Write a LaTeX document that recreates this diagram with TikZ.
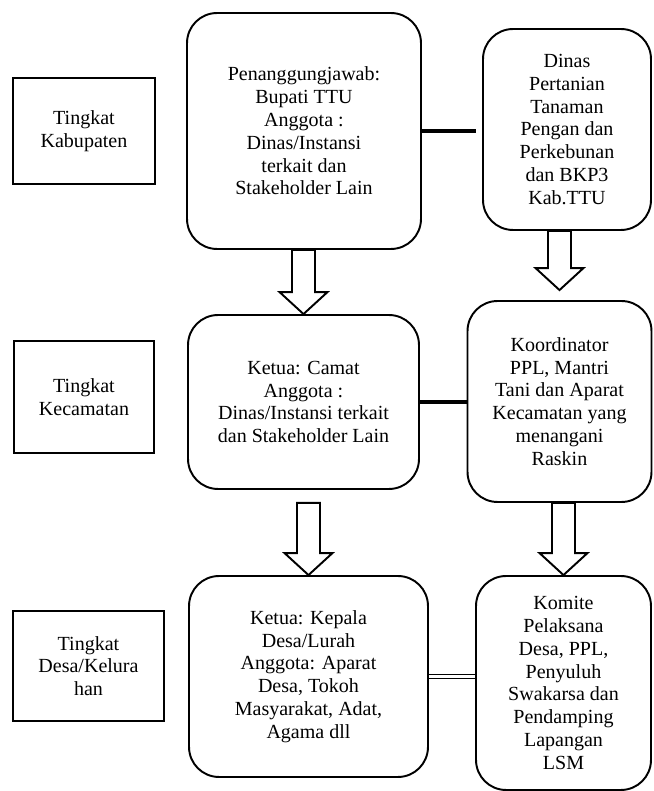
\documentclass[tikz,border=0pt]{standalone}
\usepackage{fontspec}
\setmainfont{Liberation Serif}
\usepackage{tikz}
\usetikzlibrary{calc}

\tikzset{
  unit/.style={draw, line width=1.1pt, rounded corners=0.6cm, align=center,
    font=\fontsize{11.4}{13}\selectfont},
  level/.style={draw, line width=1.4pt, align=center,
    font=\fontsize{11.4}{13}\selectfont},
  link/.style={line width=2.8pt},
  fat/.style={line width=1.1pt, line join=miter}
}

% hollow block arrow, drawn from a start point down to the tip
\newcommand{\fatarrow}[2]{%
  \draw[fat] let \p1=(#1), \p2=(#2) in
    (\x2-0.23cm,\y1) -- (\x2+0.23cm,\y1) -- (\x2+0.23cm,\y2+0.44cm)
    -- (\x2+0.48cm,\y2+0.44cm) -- (\x2,\y2) -- (\x2-0.48cm,\y2+0.44cm)
    -- (\x2-0.23cm,\y2+0.44cm) -- cycle;}

\begin{document}
\begin{tikzpicture}[x=0.02cm, y=0.02cm]
    % page frame
    \useasboundingbox (0,0) rectangle (653,791);

    % Levels on the left
    \node[level, minimum width=2.84cm, minimum height=2.12cm] (kab) at (84,660) {Tingkat\\Kabupaten};
    \node[level, minimum width=2.8cm, minimum height=2.24cm] (kec) at (84,394) {Tingkat\\Kecamatan};
    \node[level, minimum width=3.02cm, minimum height=2.2cm] (desa) at (88.5,125) {Tingkat\\Desa/Kelura\\han};

    % Kabupaten row
    \node[unit, minimum width=4.68cm, minimum height=4.72cm] (b1) at (304,660)
        {Penanggungjawab:\\Bupati TTU\\Anggota :\\Dinas/Instansi\\terkait dan\\Stakeholder Lain};
    \node[unit, minimum width=3.36cm, minimum height=4.02cm] (b2) at (567,661.5)
        {Dinas\\Pertanian\\Tanaman\\Pengan dan\\Perkebunan\\dan BKP3\\Kab.TTU};

    % Kecamatan row
    \node[unit, minimum width=4.62cm, minimum height=3.48cm] (b3) at (303.5,389)
        {Ketua: Camat\\Anggota :\\Dinas/Instansi terkait\\dan Stakeholder Lain};
    \node[unit, minimum width=3.68cm, minimum height=4.02cm] (b4) at (559.5,389.5)
        {Koordinator\\PPL, Mantri\\Tani dan Aparat\\Kecamatan yang\\menangani\\Raskin};

    % Desa row
    \node[unit, minimum width=4.78cm, minimum height=4.02cm] (b5) at (308.5,114.5)
        {Ketua: Kepala\\Desa/Lurah\\Anggota: Aparat\\Desa, Tokoh\\Masyarakat, Adat,\\Agama dll};
    \node[unit, minimum width=3.5cm, minimum height=4.28cm] (b6) at (563.5,108)
        {Komite\\Pelaksana\\Desa, PPL,\\Penyuluh\\Swakarsa dan\\Pendamping\\Lapangan\\LSM};

    % Links between the two columns
    \draw[link, shorten >=0.12cm] (b1.east) -- (b1.east -| b2.west);
    \draw[link] (b3.east) -- (b3.east -| b4.west);
    \draw[double, line width=0.9pt, double distance=1.6pt] (b5.east) -- (b5.east -| b6.west);

    % Block arrows down
    \fatarrow{b1.south}{b3.north}
    \fatarrow{b2.south}{$(b4.north)+(0,10)$}
    \fatarrow{$(b3.south)+(0,-13)$}{b5.north}
    \fatarrow{b4.south}{b6.north}
\end{tikzpicture}
\end{document}
